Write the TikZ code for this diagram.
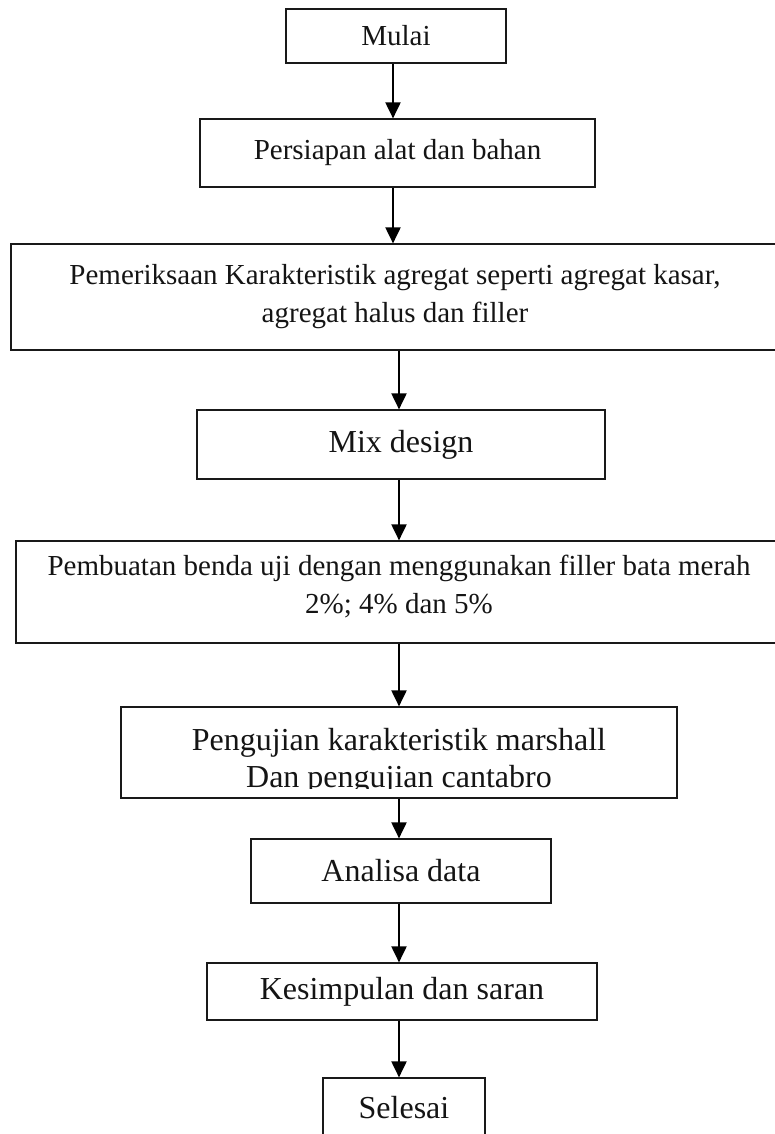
\documentclass[tikz,border=0pt]{standalone}
\usepackage{fontspec}
\setmainfont{Liberation Serif}
\usetikzlibrary{arrows.meta}

\begin{document}
\begin{tikzpicture}[x=1pt, y=-1pt,
			stepnd/.style={draw=black!90, line width=1.2pt, inner sep=0pt,
				align=center, text=black!92, font=\fontsize{29}{38}\selectfont},
			bigstep/.style={stepnd, font=\fontsize{32}{37}\selectfont},
			txtnd/.style={inner sep=0pt, align=center, text=black!92},
			flow/.style={-{Triangle[width=15pt,length=16pt]}, line width=2pt, black},
			]
			\useasboundingbox (0,0) rectangle (775,1134);
			
			%% ── Arrow axes ──────────────────────────────────────────────────────────────
			\coordinate (axisA) at (393,0);
			\coordinate (axisB) at (399,0);
			\coordinate (cutline) at (0,788);
			
			%% ── Steps ───────────────────────────────────────────────────────────────────
			\node[stepnd, minimum width=220pt, minimum height=54pt] (mulai) at (396,36)
			{Mulai};
			
			\node[stepnd, minimum width=395pt, minimum height=68pt] (persiapan) at (397.5,153)
			{Persiapan alat dan bahan};
			
			\node[stepnd, minimum width=768pt, minimum height=106pt] (periksa) at (395,297)
			{Pemeriksaan Karakteristik agregat seperti agregat kasar,\\
				agregat halus dan filler};
			
			\node[bigstep, minimum width=408pt, minimum height=69pt] (mix) at (401,444.5)
			{Mix design};
			
			\node[stepnd, minimum width=766pt, minimum height=102pt] (buat) at (399,592) {};
			\node[txtnd, font=\fontsize{29}{38}\selectfont] (buattxt) at (399,587)
			{Pembuatan benda uji dengan menggunakan filler bata merah\\
				2\%; 4\% dan 5\%};
			
			%% ── Testing box (second line cut at the frame) ─────────────────────────────
			\node[bigstep, minimum width=556pt, minimum height=91pt] (uji) at (399,752.5) {};
			\begin{scope}
				\clip (uji.north west) rectangle (uji.east |- cutline);
				\node[txtnd, font=\fontsize{32}{37}\selectfont] (ujitxt) at (399,761)
				{Pengujian karakteristik marshall\\
					Dan pengujian cantabro};
			\end{scope}
			
			\node[bigstep, minimum width=300pt, minimum height=64pt] (analisa) at (401,871)
			{Analisa data};
			
			\node[bigstep, minimum width=390pt, minimum height=57pt] (simpul) at (402,991.5)
			{Kesimpulan dan saran};
			
			\node[bigstep, minimum width=162pt, minimum height=60pt] (selesai) at (404,1108)
			{Selesai};
			
			%% ── Flow arrows ─────────────────────────────────────────────────────────────
			\draw[flow] (mulai.south -| axisA)     -- (persiapan.north -| axisA);
			\draw[flow] (persiapan.south -| axisA) -- (periksa.north -| axisA);
			\draw[flow] (periksa.south -| axisB)   -- (mix.north -| axisB);
			\draw[flow] (mix.south -| axisB)       -- (buat.north -| axisB);
			\draw[flow] (buat.south -| axisB)      -- (uji.north -| axisB);
			\draw[flow] (uji.south -| axisB)       -- (analisa.north -| axisB);
			\draw[flow] (analisa.south -| axisB)   -- (simpul.north -| axisB);
			\draw[flow] (simpul.south -| axisB)    -- (selesai.north -| axisB);
			
		\end{tikzpicture}
\end{document}
